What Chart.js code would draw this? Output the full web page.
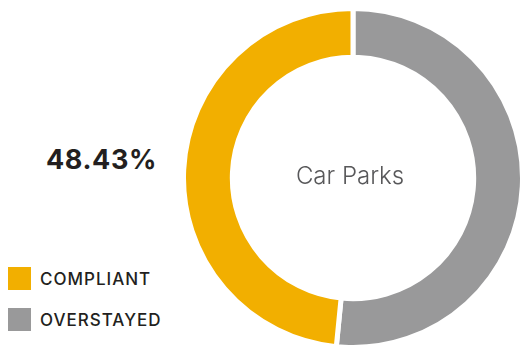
<!DOCTYPE html>
<html lang="en">

<head>
  <meta charset="UTF-8">
  <title>Car Parks</title>
  <style>
    html, body { margin: 0; padding: 0; width: 521px; height: 346px; overflow: hidden; background: #fff; }
    body { position: relative; font-family: "Inter", "Lato", sans-serif; }
    .grafico { position: absolute; left: 181px; top: 6px; width: 344px; height: 344px; }
    .percentual { position: absolute; left: 46px; top: 143px; font-size: 27px; font-weight: 700; color: #231f20; letter-spacing: 0.6px; }
    .centro { position: absolute; left: 250px; width: 200px; top: 161px; text-align: center; font-size: 24px; font-weight: 300; color: #58585a; }
    .legenda { position: absolute; left: 8px; top: 267px; }
    .item { display: flex; align-items: center; height: 23px; margin-bottom: 18px; }
    .caixa { width: 23px; height: 23px; margin-right: 9px; }
    .item span { font-size: 17px; font-weight: 500; color: #231f20; letter-spacing: 1px; }
  </style>
</head>

<body>
  <div class="grafico"><canvas id="chartCarParks"></canvas></div>
  <div class="percentual" id="valor_percentual"></div>
  <div class="centro" id="titulo_centro"></div>
  <div class="legenda" id="legenda"></div>

  <script src="https://cdn.jsdelivr.net/npm/chart.js"></script>
  <script>
    // dados
    var categorias = ["COMPLIANT", "OVERSTAYED"];
    var valores = [48.43, 51.57];
    var cores = ["#f2af00", "#99999a"];
    var tituloCentro = "Car Parks";

    document.getElementById("valor_percentual").innerText = valores[0].toFixed(2) + "%";
    document.getElementById("titulo_centro").innerText = tituloCentro;

    var legenda = document.getElementById("legenda");
    for (var i = 0; i < categorias.length; i++) {
      legenda.innerHTML += `<div class="item"><div class="caixa" style="background:${cores[i]}"></div><span>${categorias[i]}</span></div>`;
    }

    // o cinza começa no topo e vai no sentido horário, depois o amarelo
    var canva = document.getElementById("chartCarParks");
    var grafico = new Chart(canva, {
      type: 'doughnut',
      data: {
        labels: [categorias[1], categorias[0]],
        datasets: [{
          data: [valores[1], valores[0]],
          backgroundColor: [cores[1], cores[0]],
          borderColor: '#ffffff',
          borderWidth: 5
        }]
      },
      options: {
        responsive: true,
        maintainAspectRatio: false,
        animation: false,
        cutout: '71.2%',
        rotation: 0,
        layout: { padding: 0 },
        plugins: {
          legend: { display: false },
          tooltip: { enabled: false }
        }
      }
    });
  </script>
</body>

</html>
